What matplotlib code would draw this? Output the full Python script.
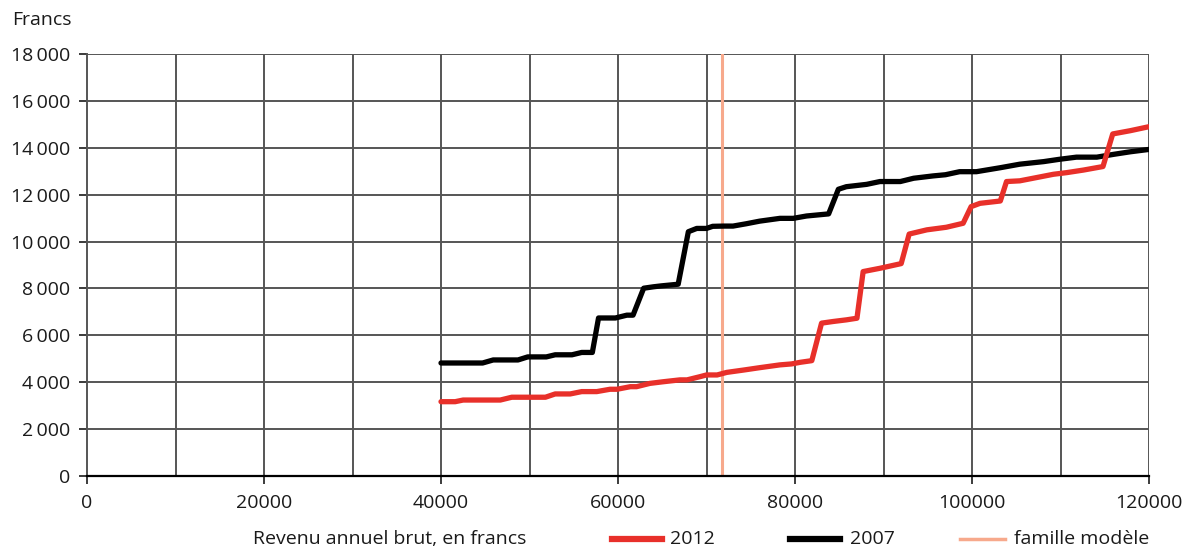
import matplotlib
matplotlib.use("Agg")
import matplotlib.pyplot as plt
from matplotlib.lines import Line2D

plt.rcParams['font.family'] = ['Open Sans', 'DejaVu Sans']

income_2007 = [40000, 44700, 45900, 48700, 49800, 51900, 52900, 54800, 55900, 57100, 57800, 59700,
               61000, 61700, 62900, 64000, 64900, 66800, 67950, 68900, 70000, 70700, 72000, 73000,
               74500, 76000, 78300, 79800, 81300, 83800, 84900, 85800, 88100, 89600, 91900, 93400,
               95600, 97000, 98600, 100500, 103200, 105400, 108100, 109900, 111800, 114100, 116000,
               117900, 120000]
values_2007 = [4820, 4820, 4950, 4950, 5080, 5080, 5170, 5170, 5270, 5270, 6740, 6740,
               6860, 6860, 8010, 8070, 8110, 8180, 10420, 10560, 10560, 10650, 10660, 10660,
               10760, 10870, 10990, 10990, 11090, 11180, 12230, 12340, 12440, 12560, 12560, 12700,
               12800, 12850, 12980, 12980, 13150, 13300, 13410, 13510, 13600, 13600, 13720,
               13830, 13930]

income_2012 = [40000, 41600, 42500, 46700, 48000, 51800, 52900, 54600, 55900, 57600, 59100, 59900,
               61400, 62100, 63600, 65100, 67000, 67800, 69300, 70000, 71200, 72300, 74200, 76000,
               78300, 79600, 80600, 81900, 83000, 84300, 85800, 87000, 87700, 89600, 92000, 92900,
               94900, 97100, 99000, 99900, 100900, 103200, 103900, 105400, 106900, 109200, 110700,
               112600, 114800, 115900, 117900, 120000]
values_2012 = [3170, 3170, 3240, 3240, 3360, 3360, 3500, 3500, 3600, 3600, 3700, 3700,
               3810, 3810, 3950, 4020, 4100, 4100, 4240, 4310, 4310, 4420, 4520, 4620,
               4740, 4780, 4850, 4920, 6520, 6590, 6660, 6730, 8720, 8860, 9060, 10320,
               10500, 10610, 10780, 11490, 11630, 11730, 12560, 12590, 12700, 12870, 12940,
               13050, 13200, 14590, 14730, 14900]

model_family_income = 71700

x_ticks = [0, 20000, 40000, 60000, 80000, 100000, 120000]
x_tick_labels = ["0", "20000", "40000", "60000", "80000", "100000", "120000"]
y_ticks = [0, 2000, 4000, 6000, 8000, 10000, 12000, 14000, 16000, 18000]
y_tick_labels = ["0", "2\u2009000", "4\u2009000", "6\u2009000", "8\u2009000", "10\u2009000",
                 "12\u2009000", "14\u2009000", "16\u2009000", "18\u2009000"]
legend_labels = ["2012", "2007", "famille modèle"]

RED = "#E8302A"
BLACK = "#000000"
PALE = "#F7A98C"
GRID = "#555555"
TXT = "#1a1a1a"

W, H = 1188, 549
fig = plt.figure(figsize=(W / 100, H / 100), dpi=100)
ax = fig.add_axes([87 / W, 1 - 476 / H, (1149 - 87) / W, (476 - 54) / H])

ax.set_xlim(0, 120000)
ax.set_ylim(0, 18000)

for gx in range(10000, 120001, 10000):
    ax.axvline(gx, color=GRID, lw=1.4, zorder=1)
for gy in y_ticks[1:]:
    ax.axhline(gy, color=GRID, lw=1.4, zorder=1)

ax.axvline(model_family_income, color=PALE, lw=2.2, zorder=2)
ax.plot(income_2007, values_2007, color=BLACK, lw=3.8, zorder=3, solid_joinstyle='round', solid_capstyle='round')
ax.plot(income_2012, values_2012, color=RED, lw=3.8, zorder=4, solid_joinstyle='round', solid_capstyle='round')

ax.set_xticks(x_ticks)
ax.set_xticklabels(x_tick_labels)
ax.set_yticks(y_ticks)
ax.set_yticklabels(y_tick_labels)
ax.tick_params(axis='both', labelsize=14, colors=TXT, length=6, width=1.2, direction='out')
ax.tick_params(axis='x', pad=7)
ax.tick_params(axis='y', pad=6)

for s in ['top', 'right']:
    ax.spines[s].set_visible(False)
ax.spines['left'].set_color(GRID)
ax.spines['left'].set_linewidth(1.4)
ax.spines['bottom'].set_color('black')
ax.spines['bottom'].set_linewidth(1.6)

fig.text(12 / W, 1 - 20 / H, "Francs", fontsize=14, color=TXT, va='center', ha='left')

ly = 1 - 539 / H
fig.text(253 / W, ly, "Revenu annuel brut, en francs", fontsize=14, color=TXT, va='center', ha='left')

legend_items = [(RED, 4.5, 612, 662, 670), (BLACK, 4.5, 790, 840, 850), (PALE, 2.5, 960, 1005, 1014)]
for (col, lw, x0, x1, tx), lab in zip(legend_items, legend_labels):
    fig.add_artist(Line2D([x0 / W, x1 / W], [ly, ly], color=col, lw=lw, transform=fig.transFigure))
    fig.text(tx / W, ly, lab, fontsize=14, color=TXT, va='center', ha='left')

fig.savefig("out.png", dpi=100)
